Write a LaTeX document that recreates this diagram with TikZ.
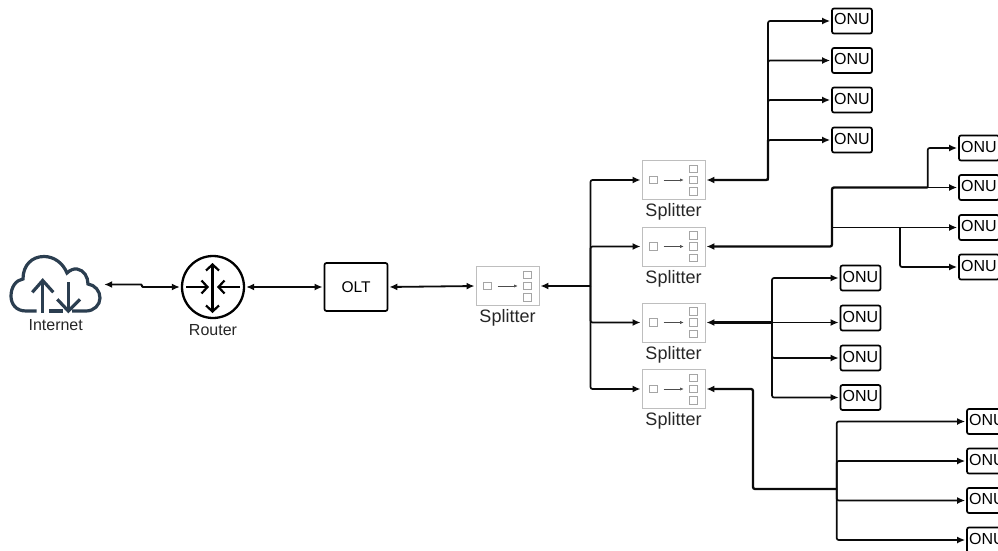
\documentclass[tikz,border=0pt]{standalone}
\usepackage{fontspec}
\setmainfont{Liberation Sans}
\usetikzlibrary{arrows.meta, positioning}
\definecolor{cloudblue}{RGB}{43,62,80}
\definecolor{splitgray}{RGB}{190,190,190}
\definecolor{portgray}{RGB}{165,165,165}
\definecolor{linkblack}{RGB}{10,10,10}

\tikzset{
    tip/.tip={Latex[length=8pt,width=7pt]},
    splitbox/.style={rectangle, draw=splitgray, line width=0.9pt, fill=white, minimum width=63pt, minimum height=39pt, inner sep=0pt},
    port/.style={rectangle, draw=portgray, line width=0.8pt, minimum size=7.5pt, inner sep=0pt},
    portarr/.style={-{Latex[length=3.5pt,width=3pt]}, line width=0.5pt, draw=black!70},
    devname/.style={font=\fontsize{16}{18}\selectfont, inner sep=0pt, text=black!85},
    splitname/.style={font=\fontsize{18}{20}\selectfont, inner sep=0pt, text=black!85},
    onu/.style={rectangle, rounded corners=2pt, draw=black, line width=1.7pt, fill=white, minimum width=40pt, minimum height=25pt, inner sep=0pt, text height=12pt, text depth=4pt, font=\fontsize{16}{18}\selectfont},
    link/.style={-tip, line width=1.7pt, draw=linkblack, rounded corners=2pt, shorten >=1pt},
    bigline/.style={line width=2.3pt, draw=linkblack, rounded corners=2pt},
    biglink/.style={bigline, tip-, shorten <=1pt},
    duplex/.style={tip-tip, line width=1.8pt, draw=linkblack, shorten >=1pt, shorten <=1pt},
    chev/.style={{Straight Barb[length=6pt,width=13pt]}-{Straight Barb[length=6pt,width=13pt]}, line width=2.2pt},
    chevin/.style={-{Straight Barb[length=6pt,width=13pt]}, line width=2.2pt}
}

% splitter box with its ports: name, x, y
\newcommand{\splitterbox}[3]{
    \node[splitbox] (#1) at (#2,#3) {};
    \node[port, xshift=-20pt] (#1in) at (#1) {};
    \node[port, xshift=20pt, yshift=11.3pt] (#1outa) at (#1) {};
    \node[port, xshift=20pt] (#1outb) at (#1) {};
    \node[port, xshift=20pt, yshift=-11.3pt] (#1outc) at (#1) {};
    \draw[portarr] (#1in.east) ++(6pt,0) -- ++(20pt,0);
    \node[splitname, below=3.5pt of #1] (#1name) {Splitter};
}

\begin{document}
\begin{tikzpicture}[x=1pt, y=-1pt]
    \useasboundingbox (0,0) rectangle (998,551);

    % cloud
    \node[minimum width=93pt, minimum height=58pt, inner sep=0pt] (cloud) at (56.5,284.5) {};
    \draw[draw=cloudblue, line width=3.2pt] (36.7,311) -- (26,311) .. controls (16,311) and (11,304) .. (11,296)
        .. controls (11,287) and (16,280) .. (23,279) .. controls (23,265) and (32,256.5) .. (44,256.5)
        .. controls (54,256.5) and (63,263) .. (67,273) .. controls (70,270) and (74,268.5) .. (77,269)
        .. controls (84,270) and (88,277) .. (88,284) .. controls (95,285) and (100,291) .. (100,298)
        .. controls (100,305) and (94,311) .. (86,311) -- (72,311);
    \draw[draw=cloudblue, line width=3.2pt] (49,311) -- (63,311);
    \draw[draw=cloudblue, line width=3.2pt] (32.3,292.3) -- (42.7,280.5) -- (53.3,292.3);
    \draw[draw=cloudblue, line width=3.2pt] (42.7,280.5) -- (42.7,312.5);
    \draw[draw=cloudblue, line width=3.2pt] (57.3,299.3) -- (68.3,311) -- (80,299.3);
    \draw[draw=cloudblue, line width=3.2pt] (68.3,311) -- (68.3,281.5);
    \node[devname] (internet) at (55.7,325) {Internet};

    % router
    \node[circle, draw=black, line width=2.3pt, minimum size=62pt, inner sep=0pt] (router) at (213,287) {};
    \node[devname, below=5pt of router] (routername) {Router};
    \draw[chev] (212.5,263) -- (212.5,313);
    \draw[chevin] (186,287) -- (209,287);
    \draw[chevin] (240,287) -- (217,287);

    \node[rectangle, rounded corners=2pt, draw=black, line width=1.7pt, minimum width=63pt, minimum height=48pt, inner sep=0pt, font=\fontsize{15.5}{18}\selectfont] (olt) at (356,287) {OLT};

    \splitterbox{spmain}{507.5}{286}
    \splitterbox{spa}{673.5}{180}
    \splitterbox{spb}{673.5}{246.5}
    \splitterbox{spc}{673.5}{322.5}
    \splitterbox{spd}{673.5}{389}

    \node[onu] (onua1) at (852,21) {ONU};
    \node[onu] (onua2) at (852,60.5) {ONU};
    \node[onu] (onua3) at (852,100) {ONU};
    \node[onu] (onua4) at (852,140) {ONU};

    \node[onu] (onub1) at (979,148) {ONU};
    \node[onu] (onub2) at (979,187.5) {ONU};
    \node[onu] (onub3) at (979,227.5) {ONU};
    \node[onu] (onub4) at (979,267) {ONU};

    \node[onu] (onuc1) at (860.5,278) {ONU};
    \node[onu] (onuc2) at (860.5,318) {ONU};
    \node[onu] (onuc3) at (860.5,358) {ONU};
    \node[onu] (onuc4) at (860.5,397.5) {ONU};

    \node[onu] (onud1) at (987,421.5) {ONU};
    \node[onu] (onud2) at (987,461) {ONU};
    \node[onu] (onud3) at (987,500.5) {ONU};
    \node[onu] (onud4) at (987,540) {ONU};

    \coordinate (kink) at (142,286);
    \coordinate (busmain) at (590.5,286);
    \coordinate (busa) at (768,180);
    \coordinate (busb) at (832,246.5);
    \coordinate (busbup) at (832,187.5);
    \coordinate (busbmid) at (832,227.5);
    \coordinate (busbtop) at (927.7,187.5);
    \coordinate (busblow) at (900,227.5);
    \coordinate (busc) at (772,322.5);
    \coordinate (busd) at (753,389);
    \coordinate (busdend) at (836.7,489);

    \draw[duplex, rounded corners=1pt] (cloud.east) -| (kink) |- (router.west);
    \draw[duplex] (router.east) -- (olt.west);
    \draw[duplex] (olt.east) -- (spmain.west);

    \draw[biglink] (spmain.east) -- (busmain);
    \draw[link] (busmain) |- (spa.west);
    \draw[link] (busmain) |- (spb.west);
    \draw[link] (busmain) |- (spc.west);
    \draw[link] (busmain) |- (spd.west);

    \draw[biglink] (spa.east) -- (busa) -- (busa |- onua4.west);
    \draw[link] (busa) |- (onua1.west);
    \draw[link] (busa) |- (onua2.west);
    \draw[link] (busa) |- (onua3.west);
    \draw[link] (busa) |- (onua4.west);

    \draw[biglink] (spb.east) -- (busb) -- (busbup) -- (busbtop);
    \draw[link] (busbup) -- (onub2.west);
    \draw[link] (busbtop) |- (onub1.west);
    \draw[link] (busbmid) -- (onub3.west);
    \draw[link] (busblow) |- (onub4.west);

    \draw[biglink] (spc.east) -- (busc);
    \draw[link] (busc) -- (onuc2.west |- busc);
    \draw[link] (busc) |- (onuc1.west);
    \draw[link] (busc) |- (onuc3.west);
    \draw[link] (busc) |- (onuc4.west);

    \draw[biglink] (spd.east) -- (busd) |- (busdend);
    \draw[link] (busdend) |- (onud1.west);
    \draw[link] (busdend) |- (onud2.west);
    \draw[link] (busdend) |- (onud3.west);
    \draw[link] (busdend) |- (onud4.west);
\end{tikzpicture}
\end{document}
